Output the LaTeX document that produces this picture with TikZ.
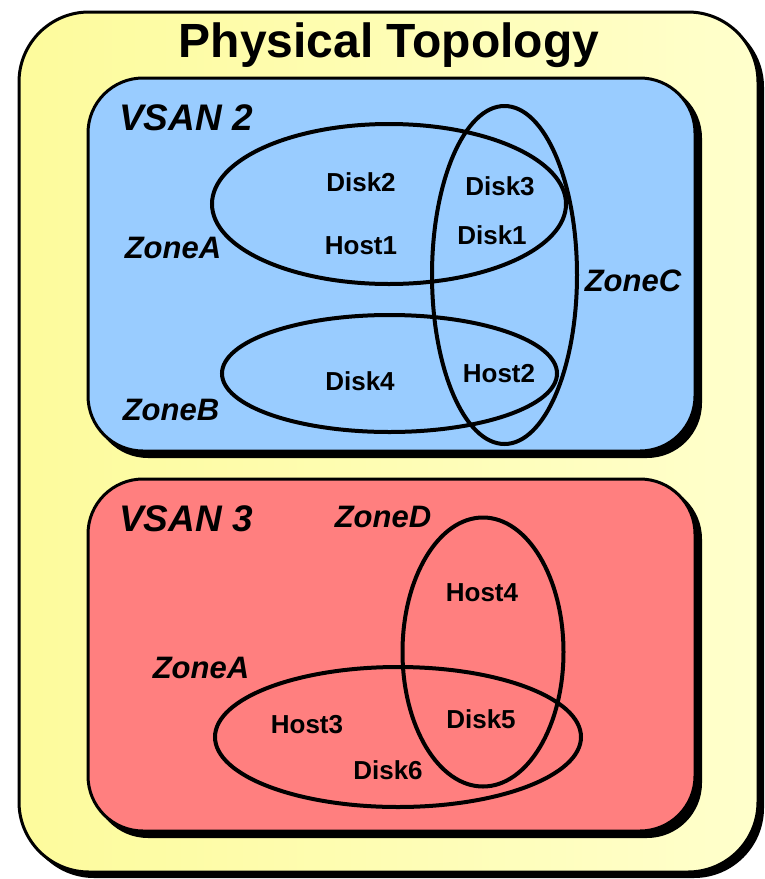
\documentclass[tikz,border=0pt]{standalone}
\usepackage{fontspec}
\setmainfont{Liberation Sans}
\usetikzlibrary{shapes.geometric}
\definecolor{padyellow}{HTML}{FDFB9C}
\definecolor{padyellowlight}{HTML}{FFFFCC}
\definecolor{vsanblue}{HTML}{99CCFF}
\definecolor{vsanred}{HTML}{FF7F7F}
\tikzset{
  panel/.style={draw=black, line width=3pt},
  zone/.style={draw=black, line width=4pt, ellipse, inner sep=0pt},
  member/.style={font=\fontsize{26}{26}\selectfont\bfseries, inner sep=0pt},
  zonelabel/.style={font=\fontsize{31}{31}\selectfont\bfseries\itshape, inner sep=0pt},
  vsanlabel/.style={font=\fontsize{37}{37}\selectfont\bfseries\itshape, inner sep=0pt, anchor=west},
}
\begin{document}
\begin{tikzpicture}[x=1pt, y=-1pt]
\useasboundingbox (0,0) rectangle (765,879);

% outer frame with drop shadow
\fill[black, rounded corners=70pt] (24,17) rectangle (764,878);
\shade[left color=padyellow, right color=padyellowlight, rounded corners=70pt, draw=black, line width=3pt]
  (19,12) rectangle (758,872);
\node[font=\fontsize{48}{48}\selectfont\bfseries, inner sep=0pt] (title) at (389,45) {Physical Topology};

% VSAN 2 panel
\fill[black, rounded corners=55pt] (93,83) rectangle (702,458);
\filldraw[panel, fill=vsanblue, rounded corners=55pt] (88,78) rectangle (695,451);
\node[vsanlabel] (vsan2) at (119,118) {VSAN 2};

\node[zone, minimum width=354pt, minimum height=160pt] (zA) at (389,204) {};
\node[zone, minimum width=335pt, minimum height=117pt] (zB) at (389.5,373.5) {};
\node[zone, minimum width=145pt, minimum height=338pt] (zC) at (504.5,275) {};

\node[member] (disk2) at (361,182) {Disk2};
\node[member] (host1) at (361,246) {Host1};
\node[member] (disk3) at (500,186) {Disk3};
\node[member] (disk1) at (492,235) {Disk1};
\node[member] (disk4) at (360,381) {Disk4};
\node[member] (host2) at (499,374) {Host2};
\node[zonelabel] (lzA) at (173,248) {ZoneA};
\node[zonelabel] (lzB) at (171,410) {ZoneB};
\node[zonelabel] (lzC) at (633,281) {ZoneC};

% VSAN 3 panel
\fill[black, rounded corners=55pt] (93,484) rectangle (702,838);
\filldraw[panel, fill=vsanred, rounded corners=55pt] (88,479) rectangle (695,831);
\node[vsanlabel] (vsan3) at (119,519) {VSAN 3};

\node[zone, minimum width=161pt, minimum height=269pt] (zD) at (483,652) {};
\node[zone, minimum width=366pt, minimum height=140pt] (zA3) at (398,737) {};

\node[member] (host4) at (482,593) {Host4};
\node[member] (host3) at (307,725) {Host3};
\node[member] (disk5) at (481,719) {Disk5};
\node[member] (disk6) at (388,770) {Disk6};
\node[zonelabel] (lzD) at (383,517) {ZoneD};
\node[zonelabel] (lzA3) at (201,668) {ZoneA};
\end{tikzpicture}
\end{document}
